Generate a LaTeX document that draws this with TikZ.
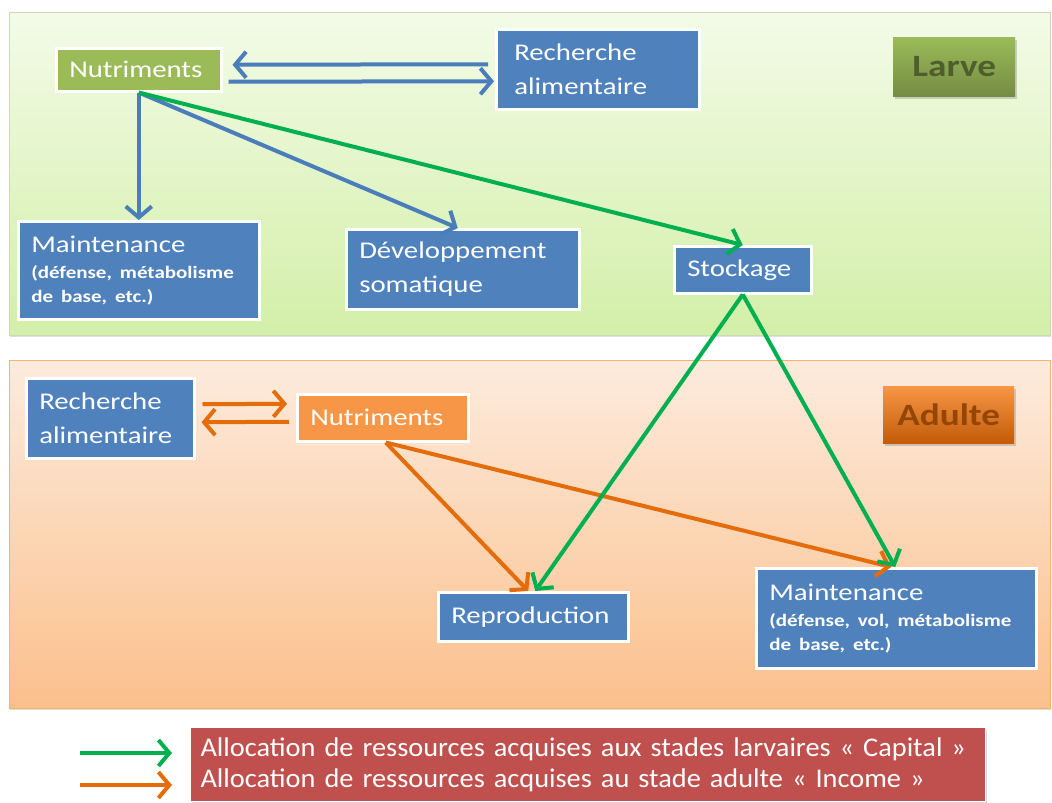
\documentclass[tikz,border=0pt]{standalone}
\usepackage{fontspec}
\setmainfont{Carlito}[FakeStretch=1.2]
\newfontfamily\legendfont{Carlito}[FakeStretch=1.05]
\usetikzlibrary{arrows.meta,shadows,calc}

\definecolor{boxblue}{HTML}{4F81BD}
\definecolor{arrowblue}{HTML}{4A7EBB}
\definecolor{nutgreen}{HTML}{9BBB59}
\definecolor{nutorange}{HTML}{F79646}
\definecolor{capgreen}{HTML}{00B050}
\definecolor{incorange}{HTML}{E46C0A}
\definecolor{legendred}{HTML}{C0504D}
\definecolor{larvatop}{HTML}{F3FBE8}
\definecolor{larvabottom}{HTML}{D3EFA8}
\definecolor{adulttop}{HTML}{FDEBDD}
\definecolor{adultbottom}{HTML}{FBC08C}

\newcommand{\subfont}{\bfseries\fontsize{17.5}{24}\selectfont}

\tikzset{
	box/.style={draw=white, line width=2.5pt, text=white, align=left, anchor=north west,
		inner xsep=13pt, inner ysep=0pt, font=\fontsize{24}{34}\selectfont,
		drop shadow={opacity=0.3, shadow xshift=1.5pt, shadow yshift=-2pt}},
	bluebox/.style={box, fill=boxblue},
	stage/.style={anchor=north west, inner sep=0pt, font=\bfseries\fontsize{31}{34}\selectfont,
		drop shadow={opacity=0.35, shadow xshift=1.5pt, shadow yshift=-2.5pt}},
	feeding/.style={arrowblue, line width=4pt, -{Straight Barb[length=11pt,width=26pt]}},
	capital/.style={capgreen, line width=4pt, -{Straight Barb[length=11pt,width=26pt]}},
	income/.style={incorange, line width=4pt, -{Straight Barb[length=11pt,width=26pt]}}
}

\begin{document}
\begin{tikzpicture}[x=1pt,y=-1pt]
	\useasboundingbox (0,0) rectangle (1052,803);
	\fill[white] (0,0) rectangle (1052,803);

	\path[draw=larvabottom!80!black!60, line width=1pt, top color=larvatop, bottom color=larvabottom,
		drop shadow={opacity=0.25, shadow xshift=1pt, shadow yshift=-2pt}] (9,12) rectangle (1050,335);
	\path[draw=orange!60, line width=1pt, top color=adulttop, bottom color=adultbottom,
		drop shadow={opacity=0.25, shadow xshift=1pt, shadow yshift=-2pt}] (9,360) rectangle (1050,708);

	\node[stage, minimum width=122pt, minimum height=59pt, top color=nutgreen, bottom color=nutgreen!75!black,
		text=nutgreen!50!black] (larve) at (893,37) {Larve};
	\node[stage, minimum width=131pt, minimum height=57pt, top color=nutorange, bottom color=incorange!85!black,
		text=incorange!65!black] (adulte) at (883,386) {Adulte};

	\node[box, fill=nutgreen, text width=139pt, minimum height=43pt] (nl) at (55,47) {Nutriments};
	\node[bluebox, text width=167pt, minimum height=80pt, inner xsep=18pt] (rl) at (495,28) {Recherche\\alimentaire};
	\node[bluebox, text width=215pt, minimum height=98pt, font=\fontsize{24}{26}\selectfont] (ml) at (17,220)
		{Maintenance\\{\subfont (défense, métabolisme}\\[-2pt]{\subfont de base, etc.)}};
	\node[bluebox, text width=207pt, minimum height=80pt] (dev) at (345,228) {Développement\\somatique};
	\node[bluebox, text width=111pt, minimum height=47pt] (sto) at (673,245) {Stockage};

	\node[bluebox, text width=142pt, minimum height=80pt] (ra) at (25,377) {Recherche\\alimentaire};
	\node[box, fill=nutorange, text width=145pt, minimum height=47pt] (na) at (296,393) {Nutriments};
	\node[bluebox, text width=164pt, minimum height=49pt] (rep) at (437,591) {Reproduction};
	\node[bluebox, text width=254pt, minimum height=100pt, font=\fontsize{24}{26}\selectfont] (ma) at (755,567)
		{Maintenance\\{\subfont (défense, vol, métabolisme}\\[-2pt]{\subfont de base, etc.)}};

	\draw[feeding] ($(rl.west)+(-7,-5)$) -- ($(nl.east)+(10,-5)$);
	\draw[feeding] ($(nl.east)+(6,12)$) -- ($(rl.west)+(-1,12)$);
	\draw[feeding] (nl.south) -- (ml.north);
	\draw[feeding] (nl.south) -- ($(dev.north)+(-5,0)$);
	\draw[capital] (nl.south) -- (sto.north);

	\draw[income] ($(ra.east)+(7,-14)$) -- ($(na.west)+(-9,-14)$);
	\draw[income] ($(na.west)+(-7,4)$) -- ($(ra.east)+(6,4)$);
	\draw[income] ($(na.south)+(3,0)$) -- ($(rep.north)+(-5,0)$);
	\draw[income] ($(na.south)+(3,0)$) -- ($(ma.north)+(-5,0)$);

	\draw[capital] (sto.south) -- ($(rep.north)+(2,0)$);
	\draw[capital] (sto.south) -- ($(ma.north)+(-1,0)$);

	\node[box, fill=legendred, anchor=north west, inner xsep=10pt, text width=775pt, minimum height=74pt,
		line width=1pt, font=\legendfont\fontsize{27}{31}\selectfont] (legend) at (190,727)
		{Allocation de ressources acquises aux stades larvaires «~Capital~»\\
		 Allocation de ressources acquises au stade adulte «~Income~»};

	\coordinate (g0) at (80,753);
	\coordinate (g1) at (172,753);
	\coordinate (o0) at (80,785);
	\coordinate (o1) at (172,785);
	\draw[capital] (g0) -- (g1);
	\draw[income] (o0) -- (o1);
\end{tikzpicture}
\end{document}
